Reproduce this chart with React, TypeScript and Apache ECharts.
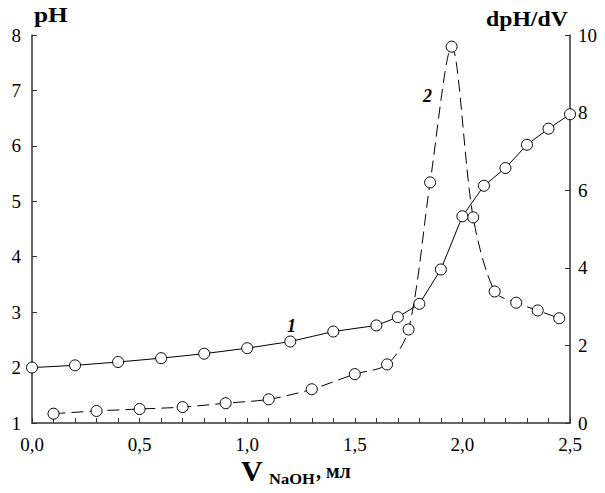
import React, { useEffect, useRef } from "react";
import * as echarts from "echarts";

const volumePH = [0, 0.2, 0.4, 0.6, 0.8, 1.0, 1.2, 1.4, 1.6, 1.7, 1.8, 1.9, 2.0, 2.1, 2.2, 2.3, 2.4, 2.5];
const pHValues = [2.0, 2.04, 2.1, 2.17, 2.25, 2.35, 2.47, 2.65, 2.76, 2.91, 3.15, 3.77, 4.73, 5.28, 5.6, 6.02, 6.31, 6.57];

const volumeDeriv = [0.1, 0.3, 0.5, 0.7, 0.9, 1.1, 1.3, 1.5, 1.65, 1.75, 1.85, 1.95, 2.05, 2.15, 2.25, 2.35, 2.45];
const derivValues = [0.24, 0.31, 0.36, 0.41, 0.51, 0.61, 0.87, 1.26, 1.51, 2.41, 6.2, 9.7, 5.3, 3.39, 3.1, 2.9, 2.7];

const FONT = "'Liberation Serif', 'Times New Roman', serif";

export default function App() {
  const ref = useRef<HTMLDivElement>(null);
  useEffect(() => {
    if (!ref.current) return;
    const chart = echarts.init(ref.current, null, { renderer: "svg" });
    const axisLine = { show: true, lineStyle: { color: "#333", width: 1.5 } };
    const fmt = (v: number) => v.toFixed(1).replace(".", ",");
    chart.setOption({
      animation: false,
      backgroundColor: "#fff",
      grid: { left: 32, right: 35, top: 35, bottom: 70 },
      xAxis: {
        type: "value",
        min: 0,
        max: 2.5,
        interval: 0.5,
        axisLine,
        axisTick: { show: true, inside: true, length: 5, lineStyle: { color: "#333" } },
        minorTick: { show: true, splitNumber: 5, length: 5, lineStyle: { color: "#333" } },
        splitLine: { show: false },
        axisLabel: { formatter: fmt, color: "#000", fontFamily: FONT, fontSize: 19, margin: 12 },
      },
      yAxis: [
        {
          type: "value",
          min: 1,
          max: 8,
          interval: 1,
          position: "left",
          axisLine,
          axisTick: { show: true, inside: true, length: 5, lineStyle: { color: "#333" } },
          splitLine: { show: false },
          axisLabel: { color: "#000", fontFamily: FONT, fontSize: 19, margin: 11 },
        },
        {
          type: "value",
          min: 0,
          max: 10,
          interval: 2,
          position: "right",
          axisLine,
          axisTick: { show: true, inside: true, length: 5, lineStyle: { color: "#333" } },
          splitLine: { show: false },
          axisLabel: { color: "#000", fontFamily: FONT, fontSize: 19, margin: 8 },
        },
      ],
      series: [
        {
          type: "line",
          yAxisIndex: 0,
          data: volumePH.map((v, i) => [v, pHValues[i]]),
          symbol: "circle",
          symbolSize: 11,
          showAllSymbol: true,
          lineStyle: { color: "#000", width: 1 },
          itemStyle: { color: "#fff", borderColor: "#000", borderWidth: 1 },
          z: 3,
        },
        {
          type: "line",
          yAxisIndex: 1,
          smooth: 0.3,
          data: volumeDeriv.map((v, i) => [v, derivValues[i]]),
          symbol: "circle",
          symbolSize: 11,
          showAllSymbol: true,
          lineStyle: { color: "#000", width: 1, type: [12, 6] },
          itemStyle: { color: "#fff", borderColor: "#000", borderWidth: 1 },
          z: 2,
        },
      ],
      graphic: [
        { type: "text", x: 34, y: 4, scaleX: 1.15, style: { text: "pH", font: `bold 22px ${FONT}`, fill: "#000" } },
        { type: "text", x: 486, y: 8, scaleX: 1.08, style: { text: "dpH/dV", font: `bold 22px ${FONT}`, fill: "#000" } },
        { type: "text", x: 241, y: 455, style: { text: "V", font: `bold 30px ${FONT}`, fill: "#000" } },
        { type: "text", x: 269, y: 471, scaleX: 1.1, style: { text: "NaOH", font: `bold 15px ${FONT}`, fill: "#000" } },
        { type: "text", x: 316, y: 461, style: { text: ", мл", font: `bold 20px ${FONT}`, fill: "#000" } },
        { type: "text", x: 287, y: 317, style: { text: "1", font: `italic bold 18px ${FONT}`, fill: "#000" } },
        { type: "text", x: 423, y: 87, style: { text: "2", font: `italic bold 18px ${FONT}`, fill: "#000" } },
      ],
    });
    return () => chart.dispose();
  }, []);
  return <div ref={ref} style={{ width: 605, height: 493, position: "absolute", left: 0, top: 0 }} />;
}
